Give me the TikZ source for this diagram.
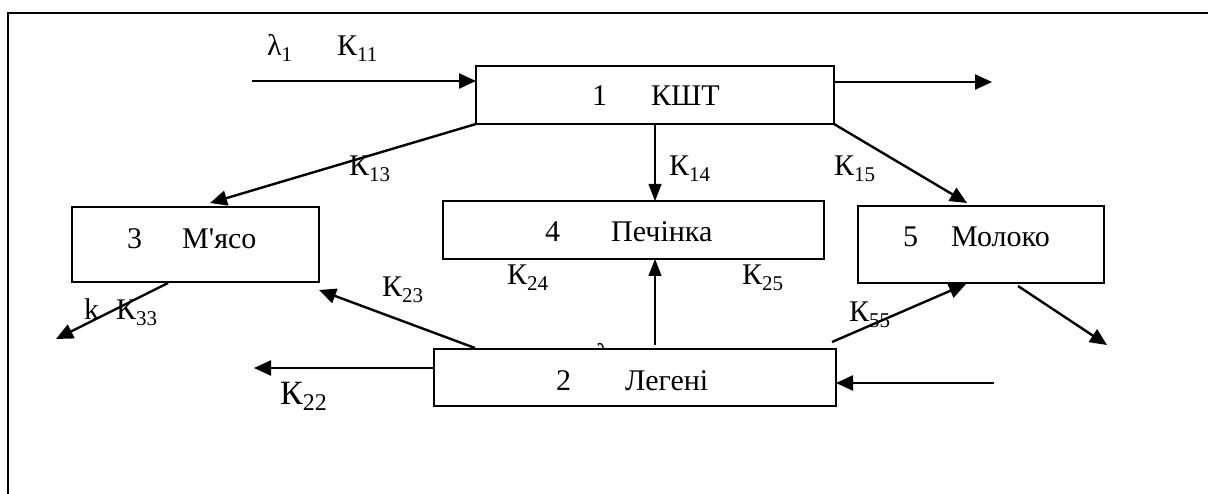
\documentclass[tikz,border=0pt]{standalone}
\usepackage{fontspec}
\setmainfont{Liberation Serif}
\usetikzlibrary{arrows.meta,calc}
\newcommand\sbs[1]{\raisebox{-0.2em}{\fontsize{21}{22}\selectfont #1}}
\newcommand\sbb[1]{\raisebox{-0.2em}{\fontsize{24}{26}\selectfont #1}}
\tikzset{
  box/.style={draw, line width=1.5pt, fill=white, inner sep=0pt, outer sep=0pt},
  txt/.style={font=\fontsize{30}{32}\selectfont, inner sep=0pt, anchor=base west},
  big/.style={font=\fontsize{34}{36}\selectfont, inner sep=0pt, anchor=base west},
  thk/.style={line width=2.4pt, -{Triangle[length=17pt,width=15pt]}},
  thn/.style={line width=1.1pt, -{Triangle[length=17pt,width=13pt]}}
}
\begin{document}
\begin{tikzpicture}[x=1pt,y=-1pt]
\useasboundingbox (0,0) rectangle (1208,494);
% frame
\draw[line width=1.6pt] (8,500) -- (8,13) -- (1215,13);
% hidden lambda under box 2
\node[txt] (lh) at (596,365) {λ};
% boxes
\node[box, minimum width=358pt, minimum height=58pt] (b1) at (655,95) {};
\node[box, minimum width=247pt, minimum height=75pt] (b3) at (195.5,244.5) {};
\node[box, minimum width=381pt, minimum height=58pt] (b4) at (633.5,230) {};
\node[box, minimum width=246pt, minimum height=77pt] (b5) at (981,244.5) {};
\node[box, minimum width=402pt, minimum height=57pt] (b2) at (635,377.5) {};
% box texts
\node[txt] (n1) at (592,106) {1};
\node[txt] (w1) at (651,106) {КШТ};
\node[txt] (n3) at (127,249) {3};
\node[txt] (w3) at (182,249) {М\textquotesingle ясо};
\node[txt] (n4) at (545,242) {4};
\node[txt] (w4) at (611,242) {Печінка};
\node[txt] (n5) at (903,247) {5};
\node[txt] (w5) at (951,247) {Молоко};
\node[txt] (n2) at (556,390) {2};
\node[txt] (w2) at (625,390) {Легені};
% labels
\node[txt] (l1) at (267,56) {λ\sbs{1}};
\node[txt] (k11) at (337,56) {К\sbs{11}};
\node[txt] (k13) at (349,176) {К\sbs{13}};
\node[txt] (k14) at (669,176) {К\sbs{14}};
\node[txt] (k15) at (834,176) {К\sbs{15}};
\node[txt] (k24) at (507,285) {К\sbs{24}};
\node[txt] (k25) at (742,285) {К\sbs{25}};
\node[txt] (k23) at (382,297) {К\sbs{23}};
\node[txt] (kk) at (84,320) {k};
\node[txt] (k33) at (116,320) {К\sbs{33}};
\node[txt] (k55) at (849,322) {К\sbs{55}};
\node[big] (k22) at (280,404) {К\sbb{22}};
% free ends
\coordinate (in1) at (252,81);
\coordinate (out1) at (992,82);
\coordinate (t13) at (210,203);
\coordinate (t15) at (967,203);
\coordinate (s33) at (168,283);
\coordinate (t33) at (56,339);
\coordinate (s23) at (475,348);
\coordinate (t23) at (319,290);
\coordinate (s24) at (655,345);
\coordinate (s25) at (832,342);
\coordinate (t25) at (966,284);
\coordinate (s5) at (1018,286);
\coordinate (t5) at (1107,345);
\coordinate (in2) at (994,383);
\coordinate (out2) at (254,368);
% connectors
\draw[thk] (in1) -- (in1 -| b1.west);
\draw[thk] (out1 -| b1.east) -- (out1);
\draw[thk] (b1.south west) -- (t13);
\draw[thn] (b1.south) -- (b1.south |- b4.north);
\draw[thk] (b1.south east) -- (t15);
\draw[thk] (s33) -- (t33);
\draw[thk] (s23) -- (t23);
\draw[thn] (s24) -- (s24 |- b4.south);
\draw[thk] (s25) -- (t25);
\draw[thk] (s5) -- (t5);
\draw[thk] (in2) -- (in2 -| b2.east);
\draw[thk] (out2 -| b2.west) -- (out2);
\end{tikzpicture}
\end{document}
